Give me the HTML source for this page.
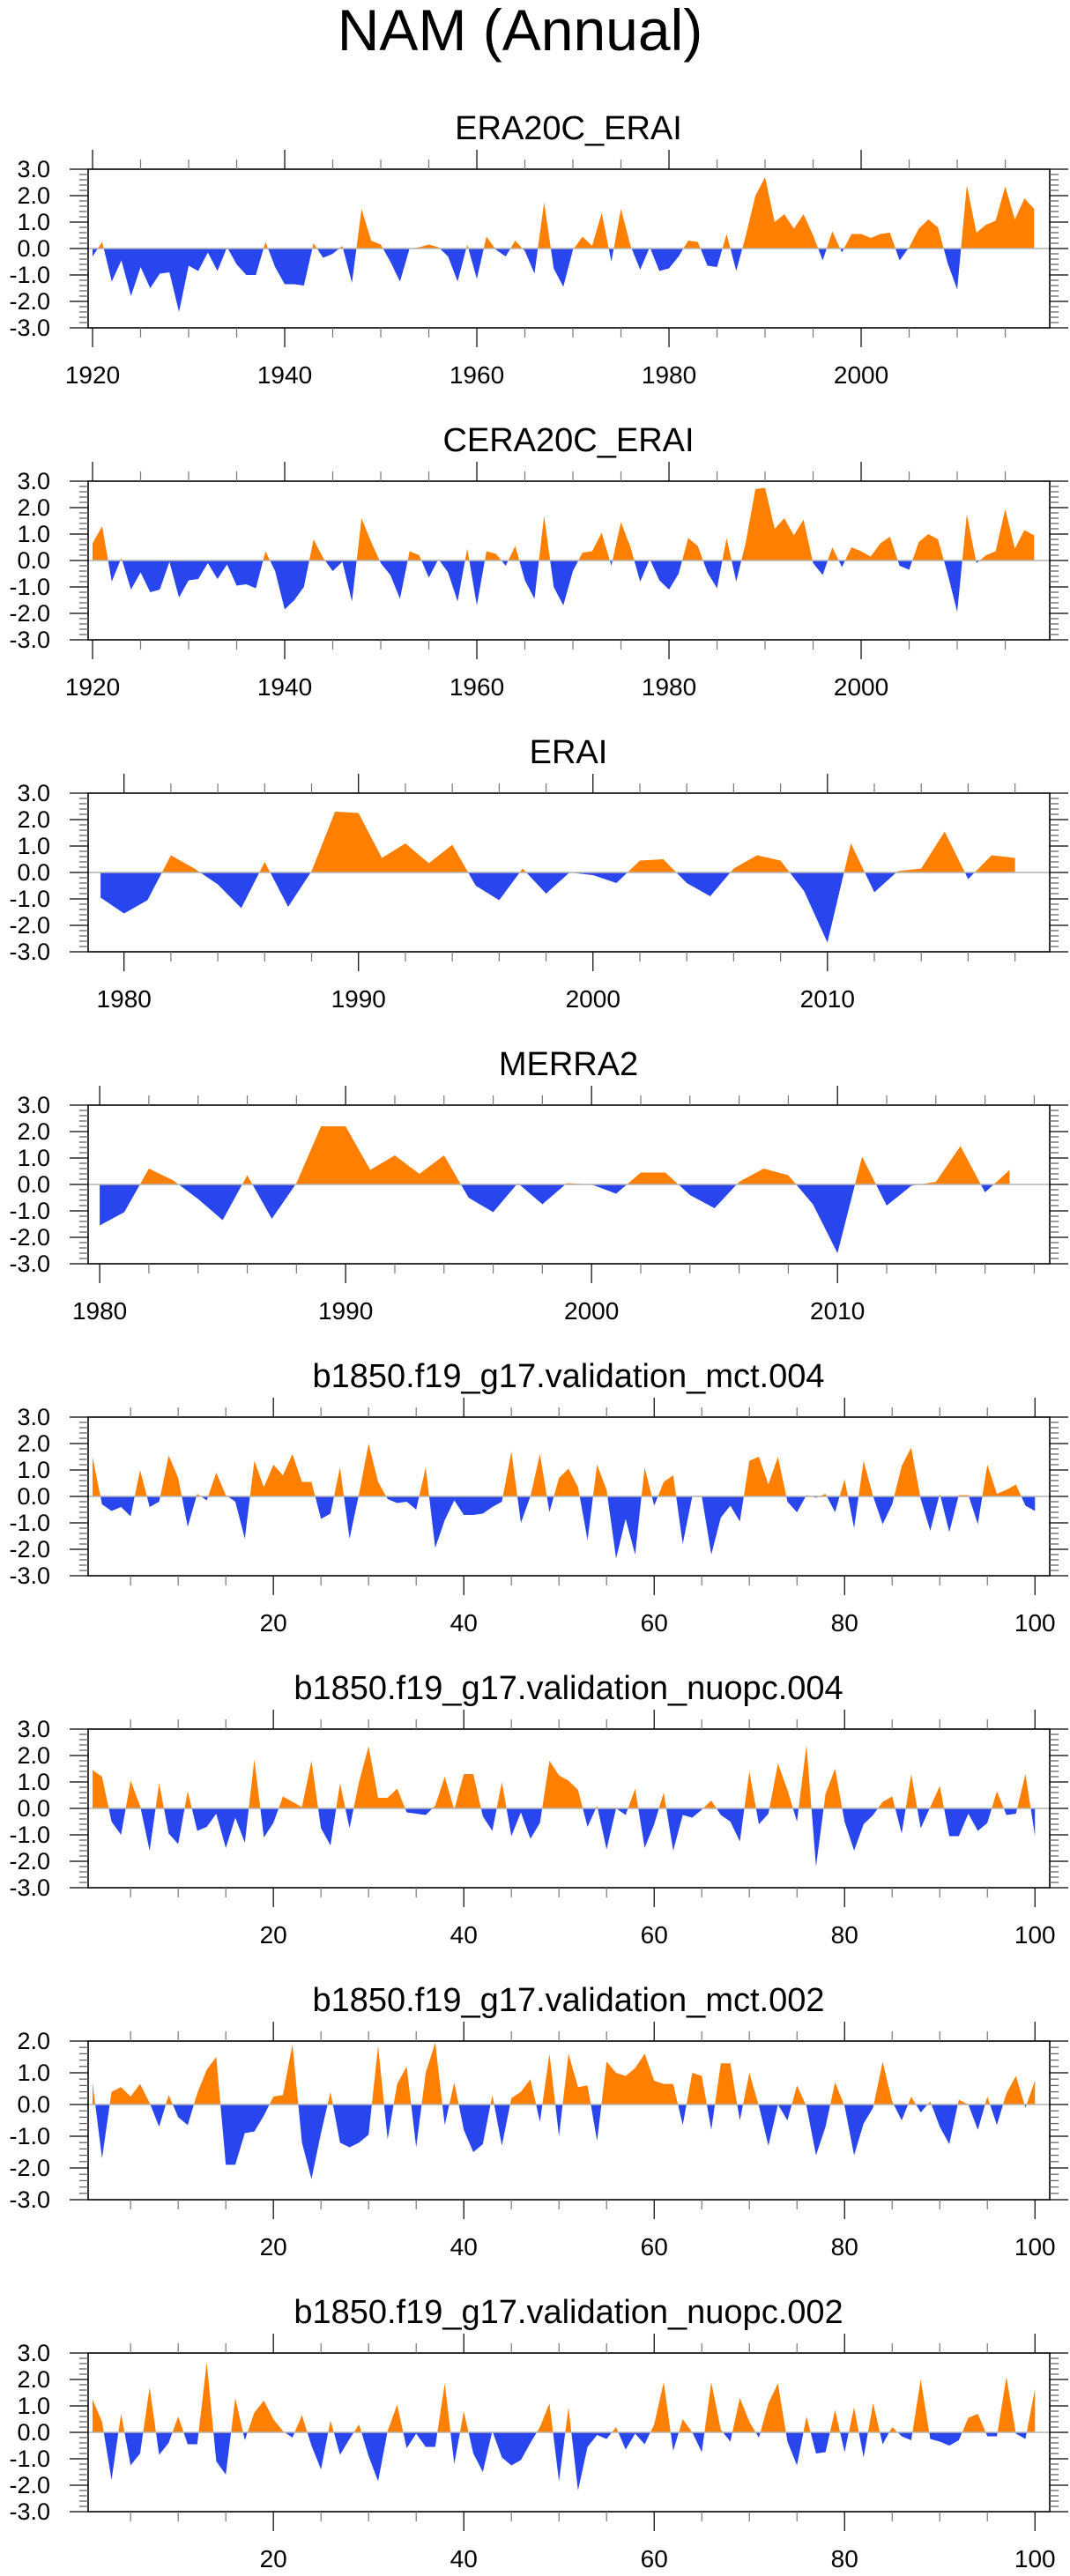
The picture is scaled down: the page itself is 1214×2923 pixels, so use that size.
<!DOCTYPE html>
<html><head><meta charset="utf-8"><title>NAM (Annual)</title>
<style>
html,body{margin:0;padding:0;background:#fff;}
svg{display:block;}
text{font-family:"Liberation Sans",Arial,sans-serif;fill:#000;}
</style></head>
<body>
<svg id="fig" xmlns="http://www.w3.org/2000/svg" width="1214" height="2923" viewBox="0 0 1214 2923">
<text x="590" y="57" font-size="66" text-anchor="middle">NAM (Annual)</text>
</svg>
<script>
// ---- data ----
const titles = ["ERA20C_ERAI","CERA20C_ERAI","ERAI","MERRA2","b1850.f19_g17.validation_mct.004","b1850.f19_g17.validation_nuopc.004","b1850.f19_g17.validation_mct.002","b1850.f19_g17.validation_nuopc.002"];
const startYears = [1920,1920,1979,1980,1,1,1,1];
const era20cValues = [-0.3,0.25,-1.25,-0.45,-1.8,-0.7,-1.5,-0.95,-0.9,-2.4,-0.65,-0.85,-0.15,-0.85,0.05,-0.6,-1.0,-1.0,0.25,-0.7,-1.35,-1.35,-1.4,0.2,-0.35,-0.2,0.1,-1.3,1.5,0.3,0.15,-0.5,-1.25,0.0,0.05,0.15,0.05,-0.3,-1.25,0.15,-1.15,0.45,-0.05,-0.3,0.3,-0.1,-0.95,1.75,-0.75,-1.45,-0.05,0.45,0.1,1.35,-0.5,1.5,0.1,-0.8,0.05,-0.85,-0.75,-0.3,0.3,0.25,-0.65,-0.7,0.55,-0.85,0.5,2.0,2.7,1.0,1.3,0.75,1.3,0.5,-0.45,0.65,-0.15,0.55,0.55,0.4,0.55,0.6,-0.45,0.05,0.75,1.1,0.8,-0.55,-1.55,2.4,0.6,0.9,1.05,2.35,1.1,1.9,1.5];
const cera20cValues = [0.65,1.3,-0.8,0.1,-1.1,-0.45,-1.2,-1.1,-0.05,-1.4,-0.75,-0.7,-0.1,-0.7,-0.15,-0.95,-0.9,-1.05,0.35,-0.4,-1.85,-1.5,-1.0,0.8,0.1,-0.4,-0.05,-1.55,1.6,0.7,-0.1,-0.55,-1.45,0.35,0.2,-0.65,0.05,-0.45,-1.55,0.45,-1.7,0.35,0.25,-0.2,0.55,-0.75,-1.45,1.7,-1.0,-1.7,-0.4,0.3,0.35,1.05,-0.2,1.45,0.5,-0.8,0.05,-0.75,-1.1,-0.5,0.85,0.55,-0.45,-1.05,0.85,-0.8,0.7,2.7,2.75,1.2,1.6,0.95,1.55,-0.1,-0.55,0.5,-0.25,0.5,0.35,0.15,0.65,0.9,-0.2,-0.35,0.7,1.0,0.8,-0.5,-1.95,1.75,-0.1,0.2,0.35,1.95,0.45,1.15,0.95];
const eraiValues = [-0.95,-1.55,-1.05,0.65,0.15,-0.45,-1.35,0.4,-1.3,0.05,2.3,2.25,0.55,1.1,0.35,1.05,-0.5,-1.05,0.15,-0.8,0.0,-0.1,-0.4,0.45,0.5,-0.4,-0.9,0.15,0.65,0.45,-0.7,-2.65,1.1,-0.75,0.05,0.15,1.55,-0.25,0.65,0.55];
const merra2Values = [-1.55,-1.05,0.6,0.15,-0.55,-1.35,0.35,-1.3,0.05,2.2,2.2,0.55,1.1,0.4,1.1,-0.5,-1.05,0.05,-0.75,0.05,0.0,-0.35,0.45,0.45,-0.4,-0.9,0.1,0.6,0.35,-0.75,-2.6,1.05,-0.8,-0.05,0.1,1.45,-0.3,0.55];
const mct004Values = [1.5,-0.3,-0.55,-0.4,-0.75,1.0,-0.4,-0.2,1.55,0.7,-1.15,0.1,-0.15,0.9,0.05,-0.2,-1.6,1.35,0.35,1.2,0.8,1.6,0.55,0.55,-0.85,-0.65,1.1,-1.6,0.1,2.0,0.55,-0.1,-0.25,-0.2,-0.5,1.1,-1.95,-0.9,-0.15,-0.7,-0.7,-0.65,-0.4,-0.2,1.7,-1.0,0.0,1.6,-0.6,0.7,1.05,0.35,-1.65,1.2,0.25,-2.35,-0.85,-2.2,1.1,-0.35,0.55,0.8,-1.8,0.0,0.0,-2.2,-0.8,-0.35,-0.95,1.35,1.5,0.45,1.5,-0.2,-0.6,0.05,-0.05,0.1,-0.6,0.65,-1.2,1.35,0.0,-1.05,-0.3,1.15,1.85,-0.1,-1.3,0.1,-1.35,0.05,0.05,-1.05,1.2,0.1,0.25,0.45,-0.35,-0.55];
const nuopc004Values = [1.45,1.2,-0.5,-1.0,1.05,0.1,-1.6,0.95,-0.95,-1.35,0.65,-0.85,-0.7,-0.2,-1.5,-0.35,-1.3,1.85,-1.1,-0.55,0.45,0.25,0.05,1.8,-0.75,-1.4,0.95,-0.75,1.0,2.35,0.4,0.4,0.75,-0.15,-0.2,-0.25,0.1,1.2,-0.05,1.3,1.3,-0.3,-0.85,1.0,-1.05,-0.15,-1.15,-0.55,1.8,1.25,1.05,0.7,-0.7,0.1,-1.55,0.0,-0.25,0.75,-1.5,-0.6,0.6,-1.6,-0.25,-0.35,-0.05,0.3,-0.25,-0.5,-1.25,1.4,-0.6,-0.2,1.7,0.7,-0.5,2.4,-2.2,0.55,1.5,-0.5,-1.6,-0.6,-0.25,0.25,0.45,-0.95,1.3,-0.75,0.05,0.85,-1.05,-1.05,-0.2,-0.85,-0.55,0.65,-0.25,-0.2,1.3,-1.05];
const mct002Values = [0.7,-1.7,0.4,0.55,0.25,0.65,0.05,-0.7,0.3,-0.4,-0.65,0.35,1.1,1.5,-1.9,-1.9,-0.9,-0.85,-0.35,0.25,0.3,1.9,-1.2,-2.35,-0.9,0.4,-1.2,-1.35,-1.2,-0.95,1.85,-1.1,0.65,1.2,-1.35,1.0,1.95,-0.65,0.7,-0.8,-1.5,-1.25,0.3,-1.3,0.2,0.4,0.8,-0.55,1.6,-1.0,1.6,0.55,0.6,-1.15,1.35,1.0,0.9,1.15,1.6,0.75,0.65,0.65,-0.65,1.0,0.9,-0.8,1.3,1.3,-0.5,1.0,-0.05,-1.3,0.0,-0.5,0.6,-0.05,-1.6,-0.7,0.7,-0.05,-1.6,-0.6,-0.1,1.35,0.1,-0.5,0.25,-0.25,0.1,-0.7,-1.25,0.15,0.0,-0.8,0.25,-0.65,0.35,0.9,-0.1,0.75];
const nuopc002Values = [1.25,0.4,-1.8,0.7,-1.25,-0.8,1.7,-0.85,-0.4,0.6,-0.45,-0.45,2.65,-1.1,-1.6,1.3,-0.3,0.75,1.2,0.5,0.05,-0.2,0.65,-0.5,-1.4,0.45,-0.85,-0.25,0.3,-0.9,-1.85,0.05,1.05,-0.6,-0.05,-0.55,-0.55,1.85,-1.2,0.8,-0.8,-1.5,0.05,-0.95,-1.25,-1.05,-0.4,0.2,1.1,-1.85,0.95,-2.2,-0.55,-0.1,-0.25,0.2,-0.65,-0.05,-0.45,0.3,1.9,-0.7,0.5,0.0,-0.75,1.9,0.1,-0.35,1.3,0.4,-0.2,1.1,1.85,-0.35,-1.25,0.6,-0.8,-0.75,0.85,-0.75,0.95,-0.95,1.1,-0.45,0.2,-0.15,-0.3,2.0,-0.25,-0.35,-0.5,-0.3,0.55,0.7,-0.15,-0.15,2.1,-0.05,-0.25,1.65];
const seriesList = [era20cValues,cera20cValues,eraiValues,merra2Values,mct004Values,nuopc004Values,mct002Values,nuopc002Values];
const yMins = [-3,-3,-3,-3,-3,-3,-3,-3];
const yMaxs = [3,3,3,3,3,3,2,3];
const xMins = [1919.54,1919.54,1978.47,1979.53,0.54,0.54,0.54,0.54];
const xMaxs = [2019.63,2019.63,2019.48,2018.63,101.55,101.55,101.55,101.55];
const majorTicks = [[1920,1940,1960,1980,2000],[1920,1940,1960,1980,2000],[1980,1990,2000,2010],[1980,1990,2000,2010],[20,40,60,80,100],[20,40,60,80,100],[20,40,60,80,100],[20,40,60,80,100]];
const minorSteps = [5,5,2,2,5,5,5,5];

// ---- layout ----
const NS="http://www.w3.org/2000/svg";
const svg=document.getElementById('fig');
const BX0=100,BX1=1191,BH=180,TOP0=192,GAP=354;
function mk(tag,attrs,parent){const e=document.createElementNS(NS,tag);for(const k in attrs)e.setAttribute(k,attrs[k]);(parent||svg).appendChild(e);return e;}

titles.forEach((title,p)=>{
  const top=TOP0+p*GAP, bot=top+BH;
  const xMin=xMins[p], xMax=xMaxs[p], yMin=yMins[p], yMax=yMaxs[p];
  const xs=v=>BX0+(v-xMin)/(xMax-xMin)*(BX1-BX0);
  const ys=v=>top+(yMax-v)/(yMax-yMin)*BH;
  const g=mk('g',{});
  
  
  const t=mk('text',{x:645,y:top-34,'font-size':38,'text-anchor':'middle'},g);
  t.textContent=title;
  
  
  // fills
  const vals=seriesList[p], y0=ys(0);
  let d='M'+xs(startYears[p]).toFixed(2)+','+y0.toFixed(2);
  vals.forEach((v,i)=>{d+=' L'+xs(startYears[p]+i).toFixed(2)+','+ys(v).toFixed(2);});
  d+=' L'+xs(startYears[p]+vals.length-1).toFixed(2)+','+y0.toFixed(2)+' Z';
  const cpU=mk('clipPath',{id:'cu'+p},g); mk('rect',{x:BX0,y:top,width:BX1-BX0,height:y0-top},cpU);
  const cpD=mk('clipPath',{id:'cd'+p},g); mk('rect',{x:BX0,y:y0,width:BX1-BX0,height:bot-y0},cpD);
  const pos=mk('path',{d:d,fill:'#ff8000','clip-path':'url(#cu'+p+')'},g);
  
  
  const neg=mk('path',{d:d,fill:'#2946ee','clip-path':'url(#cd'+p+')'},g);
  
  
  const zl=mk('line',{x1:BX0,x2:BX1,y1:y0,y2:y0,stroke:'#b4b4b4','stroke-width':1.5},g);
  
  
  // box
  const box=mk('rect',{x:BX0,y:top,width:BX1-BX0,height:BH,fill:'none',stroke:'#000','stroke-width':1.6},g);
  
  
  // y ticks
  for(let k=Math.round(yMin*5);k<=Math.round(yMax*5);k++){
    const v=k/5, y=ys(v), major=(k%5===0), L=major?21:10;
    mk('line',{x1:BX0-L,x2:BX0,y1:y,y2:y,stroke:major?'#000':'#666','stroke-width':1.3},g);
    mk('line',{x1:BX1,x2:BX1+L,y1:y,y2:y,stroke:major?'#000':'#666','stroke-width':1.3},g);
    if(major){
      const yl=mk('text',{x:57,y:y+9,'font-size':27,'text-anchor':'end'},g);
      yl.textContent=v.toFixed(1);
      
      
    }
  }
  // x ticks
  const st=minorSteps[p];
  for(let v=Math.ceil(xMin/st)*st; v<=xMax; v+=st){
    const x=xs(v), major=majorTicks[p].includes(v), L=major?22:11;
    mk('line',{x1:x,x2:x,y1:top-L,y2:top,stroke:major?'#000':'#777','stroke-width':1.2},g);
    mk('line',{x1:x,x2:x,y1:bot,y2:bot+L,stroke:major?'#000':'#777','stroke-width':1.2},g);
  }
  majorTicks[p].forEach(v=>{
    const xl=mk('text',{x:xs(v),y:top+243,'font-size':28,'text-anchor':'middle'},g);
    xl.textContent=String(v);
    
    
  });
});
</script>
</body></html>
